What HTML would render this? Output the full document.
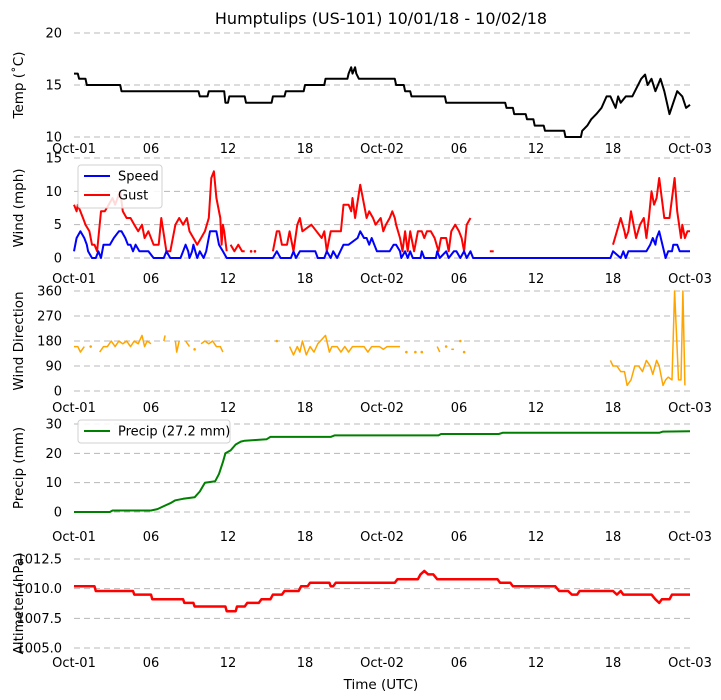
<!DOCTYPE html>
<html><head><meta charset="utf-8"><style>
html,body{margin:0;padding:0;background:#fff;}
svg{display:block;font-family:"DejaVu Sans","Liberation Sans",sans-serif;}
</style></head><body>
<svg id="chart" width="721" height="700" viewBox="0 0 721 700">
<text x="381" y="24" text-anchor="middle" font-size="16">Humptulips (US-101) 10/01/18 - 10/02/18</text>
<text x="381" y="689" text-anchor="middle" font-size="13.5">Time (UTC)</text>
<g id="panels"></g>
</svg>
<script>
// ---- data (hours since Oct-01 00 UTC); null = gap ----
const xTickLabels = ["Oct-01","06","12","18","Oct-02","06","12","18","Oct-03"];
const tempHours = [0,0.3,0.4,0.9,1.0,3.6,3.7,9.7,9.8,10.4,10.5,11.7,11.8,12.0,12.1,13.3,13.4,15.4,15.5,16.4,16.5,17.9,18.0,19.5,19.6,21.3,21.4,21.6,21.7,21.9,22.0,22.2,22.3,25.0,25.1,25.7,25.8,26.2,26.3,28.9,29.0,33.6,33.7,34.2,34.3,35.2,35.3,35.8,35.9,36.6,36.7,38.2,38.3,39.5,39.6,40.0,40.3,40.7,41.1,41.5,41.8,42.2,42.4,42.6,43.0,43.5,44.2,44.5,44.7,45.0,45.3,45.7,46.0,46.4,46.7,47.0,47.4,47.7,48.0];
const tempVals  = [16.1,16.1,15.6,15.6,15.0,15.0,14.4,14.4,13.9,13.9,14.4,14.4,13.3,13.3,13.9,13.9,13.3,13.3,13.9,13.9,14.4,14.4,15.0,15.0,15.6,15.6,16.1,16.7,16.1,16.7,16.1,15.6,15.6,15.6,15.0,15.0,14.4,14.4,13.9,13.9,13.3,13.3,12.8,12.8,12.2,12.2,11.7,11.7,11.1,11.1,10.6,10.6,10.0,10.0,10.6,11.1,11.7,12.2,12.8,13.9,13.9,12.8,13.9,13.3,13.9,13.9,15.6,16.0,15.0,15.6,14.4,15.6,14.4,12.2,13.3,14.4,13.9,12.8,13.1];
const speedHours = [0,0.2,0.5,0.8,1.0,1.1,1.4,1.7,1.9,2.1,2.3,2.8,3.1,3.5,3.7,4.0,4.2,4.4,4.6,4.8,5.1,5.4,5.8,6.2,7.0,7.2,7.5,8.3,8.5,8.7,8.9,9.0,9.2,9.3,9.6,9.8,10.1,10.3,10.6,11.1,11.3,11.6,11.9,15.5,15.8,16.1,16.9,17.1,17.3,17.6,18.8,19.0,19.5,19.7,20.0,20.2,20.5,21.0,21.4,22.1,22.3,22.6,22.8,23.0,23.2,23.4,23.6,24.6,24.9,25.1,25.4,25.5,25.8,26.0,26.2,26.4,27.0,27.1,27.3,28.2,28.3,28.5,29.0,29.2,29.6,29.8,30.1,30.4,30.6,30.9,31.1,41.8,42.0,42.6,42.8,43.0,43.2,44.6,44.9,45.1,45.3,45.4,45.6,46.1,46.3,46.6,46.7,47.0,47.2,48.0];
const speedVals  = [1,3,4,3,2,1,0,0,1,0,2,2,3,4,4,3,2,2,1,2,1,1,1,0,0,1,0,0,1,2,1,0,1,2,0,1,0,1,4,4,2,1,0,0,1,0,0,1,0,1,1,0,0,1,0,1,0,2,2,3,4,3,3,2,3,2,1,1,2,2,1,0,1,0,1,0,0,1,0,0,1,0,1,0,1,1,0,1,0,1,0,0,1,0,1,0,1,1,2,3,2,3,4,0,1,1,2,2,1,1];
const gustHours = [0,0.2,0.3,0.7,0.9,1.2,1.4,1.6,1.8,2.1,2.4,2.7,3.0,3.2,3.4,3.6,3.8,4.1,4.4,4.7,5.0,5.3,5.5,5.8,6.2,6.6,6.8,7.2,7.5,7.9,8.2,8.5,8.8,9.0,9.3,9.6,9.9,10.2,10.5,10.7,10.9,11.1,11.4,11.5,11.6,11.7,11.9,null,12.2,12.5,12.8,13.1,13.3,null,13.8,null,14.1,null,15.5,15.8,16.0,16.2,16.6,16.8,17.1,17.4,17.6,17.8,18.5,18.9,19.3,19.5,19.7,20.0,20.8,21.0,21.4,21.6,21.7,21.9,22.3,22.5,22.8,23.0,23.3,23.5,23.9,24.1,24.3,24.6,24.8,25.0,25.1,25.4,25.6,25.8,26.0,26.2,26.5,26.8,27.1,27.3,27.5,27.8,28.1,28.4,28.6,29.0,29.2,29.4,29.7,30.0,30.2,30.4,30.6,30.9,null,31.6,32.4,32.7,null,40.5,null,41.9,42.0,42.3,42.6,42.9,43.0,43.2,43.4,43.8,44.1,44.4,44.6,44.8,45.0,45.2,45.4,45.6,46.0,46.4,46.8,47.0,47.3,47.4,47.6,47.8,48.0];
const gustVals  = [8,7,8,6,5,4,2,2,1,7,7,8,9,8,9,10,7,6,6,5,4,5,3,4,2,2,6,1,1,5,6,5,6,4,3,2,3,4,6,12,13,9,6,2,5,4,1,null,2,1,2,1,1,null,1,null,1,null,1,4,4,2,2,4,1,5,6,4,5,4,3,4,1,4,4,8,8,7,9,6,11,9,6,7,6,5,6,4,5,6,7,6,5,3,1,4,1,4,1,4,4,3,4,4,3,1,3,3,1,4,5,4,3,1,5,6,7,null,1,1,2,null,1,null,2,4,6,4,3,4,7,3,5,6,3,6,10,8,9,12,6,6,12,7,3,5,3,4,4];
const dirHours = [0,0.3,0.5,0.8,null,1.3,null,2.0,2.3,2.6,2.9,3.2,3.5,3.8,4.1,4.4,4.7,5.0,5.3,5.5,5.7,6.0,null,7.0,7.1,null,7.9,8.0,8.2,null,8.7,9.0,null,9.4,null,9.9,10.2,10.5,10.8,11.1,11.4,11.6,null,15.8,null,16.8,17.1,17.4,17.6,17.8,18.1,18.4,18.7,19.0,19.2,19.6,19.9,20.1,20.5,20.8,21.1,21.4,21.7,22.0,22.3,22.6,22.9,23.2,23.5,23.8,24.1,24.4,24.7,25.0,25.4,null,25.9,null,26.6,null,27.1,null,28.3,28.5,null,29.0,null,29.4,29.6,null,30.1,null,30.4,null,41.8,42.0,42.3,42.6,42.9,43.1,43.4,43.7,44.0,44.3,44.6,44.9,45.1,45.4,45.6,45.9,46.1,46.3,46.6,46.8,47.1,47.3,47.45,47.6,47.8,47.9,48.0];
const dirVals  = [160,160,140,160,null,160,null,140,160,160,180,160,180,170,180,160,180,170,200,160,180,170,null,180,200,null,180,140,180,null,180,160,null,150,null,170,180,170,180,160,160,140,null,180,null,160,130,160,140,180,130,160,140,170,180,200,140,160,160,140,160,140,160,160,160,160,140,160,160,160,150,160,160,160,160,null,140,null,140,null,140,null,160,140,null,160,null,150,150,null,180,null,140,null,110,90,90,70,70,20,40,90,90,70,110,90,60,110,90,20,40,50,40,360,40,40,360,20];
const precipHours = [0,2.8,3.0,6.0,6.5,7.0,7.5,7.9,8.5,9.4,9.8,10.2,11.0,11.3,11.6,11.8,12.2,12.6,13.0,13.3,14.0,15.0,15.3,20.0,20.3,28.4,28.6,33.1,33.4,45.6,45.9,48.0];
const precipVals  = [0,0,0.5,0.5,1,2,3,4,4.5,5,7,10,10.5,13,17,20,21,23,24,24.3,24.5,24.8,25.6,25.6,26.1,26.1,26.6,26.6,27.0,27.0,27.4,27.5];
const altHours = [0,1.6,1.7,4.6,4.7,6.0,6.1,8.5,8.6,9.3,9.4,11.8,11.9,12.6,12.7,13.3,13.5,14.4,14.6,15.3,15.5,16.2,16.4,17.5,17.7,18.2,18.4,19.9,20.0,20.2,20.4,25.0,25.2,26.8,27.0,27.3,27.6,28.0,28.3,33.0,33.2,34.0,34.2,37.5,37.8,38.5,38.8,39.2,39.4,42.0,42.3,42.6,42.8,45.0,45.3,45.6,45.8,46.4,46.6,48.0];
const altVals  = [1010.2,1010.2,1009.8,1009.8,1009.5,1009.5,1009.1,1009.1,1008.8,1008.8,1008.5,1008.5,1008.1,1008.1,1008.5,1008.5,1008.8,1008.8,1009.1,1009.1,1009.5,1009.5,1009.8,1009.8,1010.2,1010.2,1010.5,1010.5,1010.2,1010.2,1010.5,1010.5,1010.8,1010.8,1011.2,1011.5,1011.2,1011.2,1010.8,1010.8,1010.5,1010.5,1010.2,1010.2,1009.8,1009.8,1009.5,1009.5,1009.8,1009.8,1009.5,1009.8,1009.5,1009.5,1009.1,1008.8,1009.1,1009.1,1009.5,1009.5];

// ---- layout ----
const NS = "http://www.w3.org/2000/svg";
const X0 = 74, X1 = 690;
function xs(h){ return X0 + (X1 - X0) * h / 48; }
const root = document.getElementById('panels');
function mk(tag, attrs, parent){ const e=document.createElementNS(NS,tag); for(const k in attrs) e.setAttribute(k,attrs[k]); (parent||root).appendChild(e); return e; }

const panels = [
  {name:'temp', title:'Temp (\u02daC)', min:10, max:20, yTop:33, yBot:137, ticks:[10,15,20], fmt:v=>String(v), xlab:153},
  {name:'wind', title:'Wind (mph)', min:0, max:15, yTop:158, yBot:258, ticks:[0,5,10,15], fmt:v=>String(v), xlab:283},
  {name:'direction', title:'Wind Direction', min:0, max:360, yTop:291, yBot:391, ticks:[0,90,180,270,360], fmt:v=>String(v), xlab:412},
  {name:'precip', title:'Precip (mm)', min:0, max:30, yTop:424, yBot:512, ticks:[0,10,20,30], fmt:v=>String(v), xlab:541},
  {name:'altimeter', title:'Altimeter (hPa)', min:1005, max:1012.5, yTop:559, yBot:648, ticks:[1005,1007.5,1010,1012.5], fmt:v=>v.toFixed(1), xlab:667}
];
panels.forEach(p=>{ p.ys = v => p.yBot - (p.yBot - p.yTop) * (v - p.min) / (p.max - p.min); });

panels.forEach(p=>{
  const g = mk('g',{});
  
  
  p.ticks.forEach(t=>{
    const y = p.ys(t);
    const ln = mk('line',{x1:X0,x2:X1,y1:y,y2:y,stroke:'#b8b8b8','stroke-width':1,'stroke-dasharray':'6,4'},g);
    
    
    const tx = mk('text',{x:62,y:y+4.5,'text-anchor':'end','font-size':13},g);
    tx.textContent = p.fmt(t);
    
    
  });
  xTickLabels.forEach((lab,i)=>{
    const tx = mk('text',{x:xs(i*6),y:p.xlab,'text-anchor':'middle','font-size':13},g);
    tx.textContent = lab;
    
    
  });
  const cy = (p.yTop + p.yBot)/2;
  const at = mk('text',{x:0,y:0,'text-anchor':'middle','font-size':13.5,transform:`translate(23,${cy}) rotate(-90)`},g);
  at.textContent = p.title;
  
  
  p.g = g;
});

function series(p, hours, vals, color, name, width){
  let seg = [];
  const segs = [];
  hours.forEach((h,i)=>{
    const v = vals[i];
    if (h === null || v === null || v === undefined) { if (seg.length) segs.push(seg); seg = []; }
    else seg.push([xs(h), p.ys(v)]);
  });
  if (seg.length) segs.push(seg);
  const g = mk('g',{},p.g);
  
  
  segs.forEach(s=>{
    if (s.length === 1) {
      const c = mk('circle',{cx:s[0][0],cy:s[0][1],r:1.3,fill:color},g);
      
      
    } else {
      const pl = mk('polyline',{points:s.map(q=>q[0].toFixed(1)+','+q[1].toFixed(1)).join(' '),fill:'none',stroke:color,'stroke-width':width||2,'stroke-linejoin':'round'},g);
      
      
    }
  });
}
series(panels[0], tempHours, tempVals, '#000', 'temp-series');
series(panels[1], gustHours, gustVals, '#ff0000', 'gust-series');
series(panels[1], speedHours, speedVals, '#0000ff', 'speed-series');
series(panels[2], dirHours, dirVals, '#ffa500', 'direction-series', 1.5);
series(panels[3], precipHours, precipVals, '#008000', 'precip-series');
series(panels[4], altHours, altVals, '#ff0000', 'altimeter-series', 2.5);

function legend(x,y,w,h,items,name){
  const g = mk('g',{});
  
  
  mk('rect',{x:x,y:y,width:w,height:h,rx:3,fill:'#fff','fill-opacity':0.85,stroke:'#d0d0d0'},g);
  items.forEach((it,i)=>{
    const yy = y + 11 + i*19;
    const ln = mk('line',{x1:x+6,x2:x+32,y1:yy,y2:yy,stroke:it[1],'stroke-width':2},g);
    
    
    const t = mk('text',{x:x+40,y:yy+4.5,'font-size':13},g);
    t.textContent = it[0];
    
    
  });
}
legend(78,165,84,43,[['Speed','#0000ff'],['Gust','#ff0000']],'wind-legend');
legend(78,420,152,23,[['Precip (27.2 mm)','#008000']],'precip-legend');
</script>
</body></html>
